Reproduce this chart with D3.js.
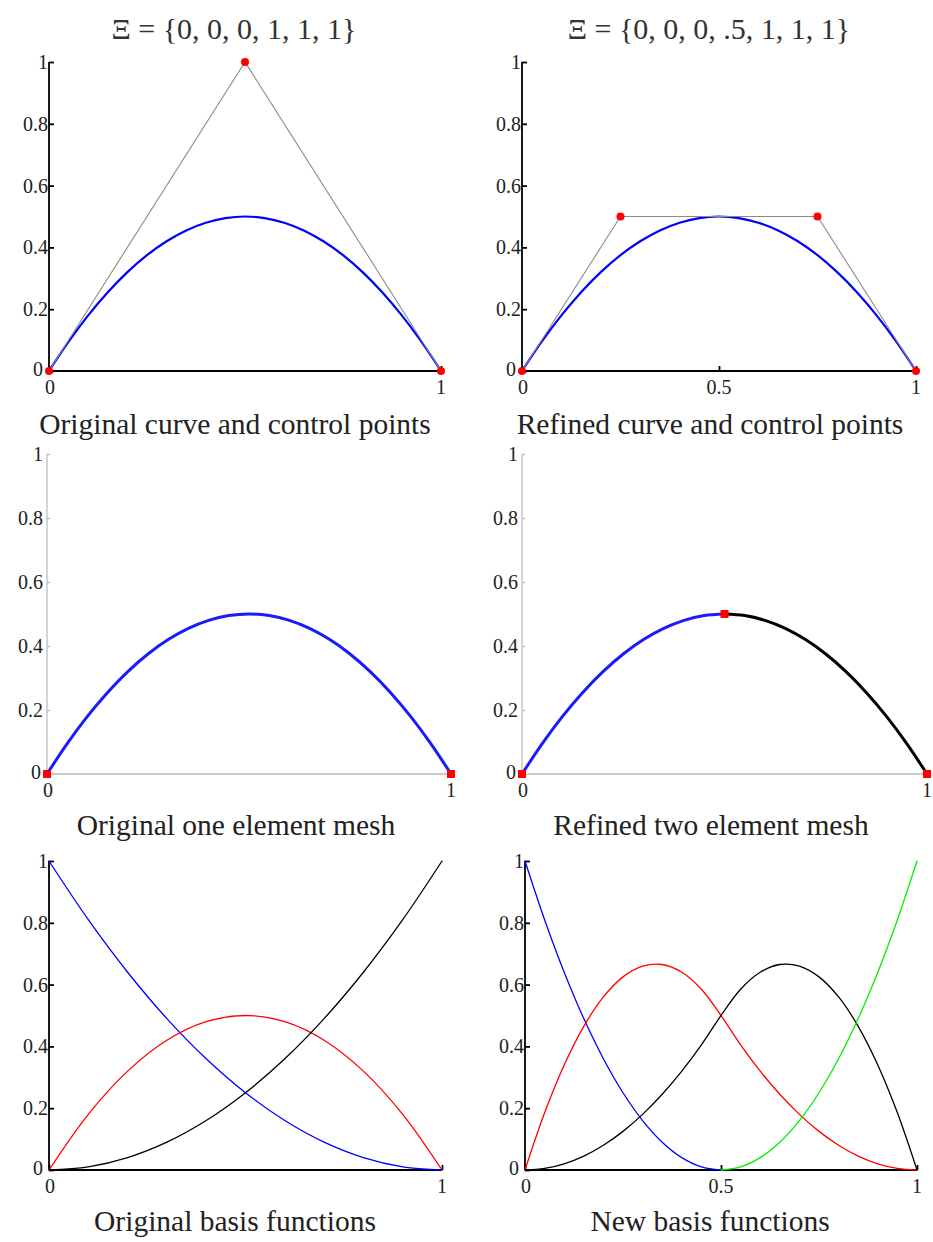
<!DOCTYPE html>
<html><head><meta charset="utf-8">
<script src="https://cdn.jsdelivr.net/npm/d3@7"></script>
<style>body{margin:0;background:#fff}svg{display:block}</style>
</head><body>
<script>
// ---------- data ----------
const titles = ["Ξ = {0, 0, 0, 1, 1, 1}", "Ξ = {0, 0, 0, .5, 1, 1, 1}"];
const subtitles = ["Original curve and control points", "Refined curve and control points",
  "Original one element mesh", "Refined two element mesh",
  "Original basis functions", "New basis functions"];
const yTicks = [0, 0.2, 0.4, 0.6, 0.8, 1];
const yTickLabels = ["0", "0.2", "0.4", "0.6", "0.8", "1"];
const xTicksOrig = [0, 1];
const xTicksRef = [0, 0.5, 1];

// curve samples (x, y)
const curveX = [0,.05,.1,.15,.2,.25,.3,.35,.4,.45,.5,.55,.6,.65,.7,.75,.8,.85,.9,.95,1];
const curveY = [0,.095,.18,.255,.32,.375,.42,.455,.48,.495,.5,.495,.48,.455,.42,.375,.32,.255,.18,.095,0];

const ctrlOrigX = [0, 0.5, 1];
const ctrlOrigY = [0, 1, 0];
const ctrlRefX = [0, 0.25, 0.75, 1];
const ctrlRefY = [0, 0.5, 0.5, 0];

const nodesOrigX = [0, 1];
const nodesRefX = [0, 0.5, 1];

// original basis functions
const basisX = [0,.1,.2,.3,.4,.5,.6,.7,.8,.9,1];
const origBlue = [1,.81,.64,.49,.36,.25,.16,.09,.04,.01,0];
const origRed = [0,.18,.32,.42,.48,.5,.48,.42,.32,.18,0];
const origBlack = [0,.01,.04,.09,.16,.25,.36,.49,.64,.81,1];

// new basis functions
const newX = [0,.05,.1,.15,.2,.25,.3,.35,.4,.45,.5,.55,.6,.65,.7,.75,.8,.85,.9,.95,1];
const newBlue = [1,.81,.64,.49,.36,.25,.16,.09,.04,.01,0];           // x 0..0.5
const newRed = [0,.185,.34,.465,.56,.625,.66,.665,.64,.585,.5,.405,.32,.245,.18,.125,.08,.045,.02,.005,0];
const newBlack = [0,.005,.02,.045,.08,.125,.18,.245,.32,.405,.5,.585,.64,.665,.66,.625,.56,.465,.34,.185,0];
const newGreen = [0,.01,.04,.09,.16,.25,.36,.49,.64,.81,1];          // x 0.5..1

// ---------- layout ----------
const W = 933, H = 1242;
const svg = d3.select("body").append("svg").attr("width", W).attr("height", H);
const FONT = "'Liberation Serif', 'DejaVu Serif', serif";

const panels = [
  {x0:49, x1:441, yT:62, yB:371, style:"dark", xt:xTicksOrig},
  {x0:522, x1:916, yT:62, yB:371, style:"dark", xt:xTicksRef},
  {x0:47, x1:451, yT:454, yB:774, style:"light", xt:xTicksOrig},
  {x0:522, x1:927, yT:454, yB:774, style:"light", xt:xTicksOrig},
  {x0:49, x1:442, yT:861, yB:1170, style:"dark", xt:xTicksOrig},
  {x0:525, x1:917, yT:861, yB:1170, style:"dark", xt:xTicksRef}
];
panels.forEach(p => {
  p.x = d3.scaleLinear().domain([0,1]).range([p.x0, p.x1]);
  p.y = d3.scaleLinear().domain([0,1]).range([p.yB, p.yT]);
});

function axes(p) {
  const col = p.style === "dark" ? "#000" : "#bdbdbd";
  const lw = p.style === "dark" ? 1.8 : 1.3;
  const g = svg.append("g");
  const ya = d3.axisRight(p.y).tickValues(yTicks).tickSize(p.style === "dark" ? 5 : 3).tickFormat("");
  const gy = g.append("g").attr("transform", `translate(${p.x0},0)`).call(ya);
  gy.select(".domain").attr("stroke", col).attr("stroke-width", lw).attr("d", `M0,${p.yT}V${p.yB}`);
  gy.selectAll(".tick line").attr("stroke", col).attr("stroke-width", lw);
  const xa = d3.axisTop(p.x).tickValues(p.xt).tickSize(p.style === "dark" ? 5 : 3).tickFormat("");
  const gx = g.append("g").attr("transform", `translate(0,${p.yB})`).call(xa);
  gx.select(".domain").attr("stroke", col).attr("stroke-width", lw).attr("d", `M${p.x0},0H${p.x1}`);
  gx.selectAll(".tick line").attr("stroke", col).attr("stroke-width", lw);
  const off = p.style === "dark" ? 1 : 4;
  g.selectAll(".yl").data(yTicks).join("text")
    .attr("x", d => p.x0 - (d === 0 ? 6 : off)).attr("y", d => p.y(d) + (d === 0 ? 5 : 7))
    .attr("text-anchor", "end").attr("font-family", FONT).attr("font-size", 20).attr("fill", "#222")
    .text((d,i) => yTickLabels[i]);
  g.selectAll(".xl").data(p.xt).join("text")
    .attr("x", d => p.x(d) + (d === 0 ? 1 : 0)).attr("y", p.yB + 23)
    .attr("text-anchor", "middle").attr("font-family", FONT).attr("font-size", 20).attr("fill", "#222")
    .text(d => d === 0.5 ? "0.5" : String(d));
}
panels.forEach(axes);

function line(p, xs, ys, color, width) {
  const gen = d3.line().x(d => p.x(d[0])).y(d => p.y(d[1])).curve(d3.curveCatmullRom);
  svg.append("path").datum(xs.map((x,i) => [x, ys[i]]))
    .attr("d", gen).attr("fill", "none").attr("stroke", color).attr("stroke-width", width)
    .attr("stroke-linejoin", "round").attr("stroke-linecap", "round");
}
function poly(p, xs, ys, color, width) {
  const gen = d3.line().x(d => p.x(d[0])).y(d => p.y(d[1]));
  svg.append("path").datum(xs.map((x,i) => [x, ys[i]]))
    .attr("d", gen).attr("fill", "none").attr("stroke", color).attr("stroke-width", width);
}
function dots(p, xs, ys, r) {
  svg.append("g").selectAll("circle").data(xs.map((x,i) => [x, ys[i]])).join("circle")
    .attr("cx", d => p.x(d[0])).attr("cy", d => p.y(d[1])).attr("r", r).attr("fill", "#ff0000");
}
function squares(p, xs, s) {
  svg.append("g").selectAll("rect").data(xs).join("rect")
    .attr("x", d => p.x(d) - s/2).attr("y", p.y(0) - s/2).attr("width", s).attr("height", s)
    .attr("fill", "#ff0000");
}
function sub(arrX, arrY, lo, hi) {
  const xs = [], ys = [];
  arrX.forEach((x,i) => { if (x >= lo - 1e-9 && x <= hi + 1e-9) { xs.push(x); ys.push(arrY[i]); } });
  return [xs, ys];
}

// Panel 1
line(panels[0], curveX, curveY, "#0000ff", 2.2);
poly(panels[0], ctrlOrigX, ctrlOrigY, "#8a8a8a", 1.1);
dots(panels[0], ctrlOrigX, ctrlOrigY, 4);
// Panel 2
line(panels[1], curveX, curveY, "#0000ff", 2.2);
poly(panels[1], ctrlRefX, ctrlRefY, "#8a8a8a", 1.1);
dots(panels[1], ctrlRefX, ctrlRefY, 4);
// Panel 3
line(panels[2], curveX, curveY, "#1a1aff", 3);
squares(panels[2], nodesOrigX, 8);
// Panel 4
{
  const [bx, by] = sub(curveX, curveY, 0, 0.5);
  const [kx, ky] = sub(curveX, curveY, 0.5, 1);
  line(panels[3], bx, by, "#1a1aff", 3);
  line(panels[3], kx, ky, "#000", 3);
  svg.append("g").selectAll("rect").data(nodesRefX).join("rect")
    .attr("x", d => panels[3].x(d) - 4)
    .attr("y", d => panels[3].y(curveY[curveX.indexOf(d)]) - 4)
    .attr("width", 8).attr("height", 8).attr("fill", "#ff0000");
}
// Panel 5
line(panels[4], basisX, origBlue, "#0000ff", 1.3);
line(panels[4], basisX, origRed, "#ff0000", 1.3);
line(panels[4], basisX, origBlack, "#000", 1.3);
// Panel 6
{
  const [bx] = sub(newX, newX, 0, 0.5);
  const [gx] = sub(newX, newX, 0.5, 1);
  line(panels[5], bx, newBlue, "#0000ff", 1.3);
  line(panels[5], newX, newRed, "#ff0000", 1.3);
  line(panels[5], newX, newBlack, "#000", 1.3);
  line(panels[5], gx, newGreen, "#00ee00", 1.3);
}

// titles
svg.selectAll(".title").data(titles).join("text")
  .attr("x", (d,i) => i === 0 ? 234 : 709).attr("y", 39)
  .attr("text-anchor", "middle").attr("font-family", FONT).attr("font-size", 30).attr("fill", "#333")
  .text(d => d);
const subPos = [[235,434],[710,434],[236,835],[711,835],[235,1231],[710,1231]];
svg.selectAll(".sub").data(subtitles).join("text")
  .attr("x", (d,i) => subPos[i][0]).attr("y", (d,i) => subPos[i][1])
  .attr("text-anchor", "middle").attr("font-family", FONT).attr("font-size", 29.5).attr("fill", "#222")
  .text(d => d);
</script>
</body></html>
